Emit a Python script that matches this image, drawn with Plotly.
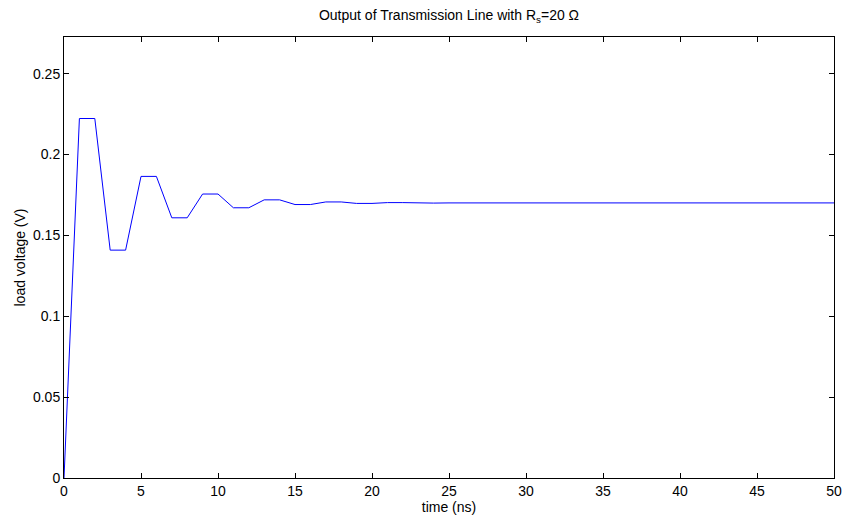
import plotly.graph_objects as go

time_ns = list(range(0, 51))
load_v = [0.0,
          0.2223, 0.2223, 0.1409, 0.1409, 0.1865, 0.1865, 0.1609, 0.1609,
          0.1756, 0.1756, 0.1671, 0.1671, 0.1720, 0.1720, 0.1691, 0.1691,
          0.1707, 0.1707, 0.1698, 0.1698, 0.1703, 0.1703, 0.1700, 0.1700] + [0.1701] * 26

x_ticks = list(range(0, 51, 5))
y_ticks = [0, 0.05, 0.1, 0.15, 0.2, 0.25]
y_tick_labels = ["0", "0.05", "0.1", "0.15", "0.2", "0.25"]

FONT = "Liberation Sans, Arial, sans-serif"

fig = go.Figure()
fig.add_trace(go.Scatter(x=time_ns, y=load_v, mode="lines",
                         line=dict(color="#0000ff", width=1)))

axis_common = dict(showgrid=False, zeroline=False, showline=True, linecolor="black",
                   linewidth=1, mirror="ticks", ticks="inside", ticklen=5,
                   tickcolor="black", tickwidth=1, automargin=False,
                   tickfont=dict(family=FONT, size=14, color="black"))

fig.update_layout(
    width=846, height=519,
    margin=dict(l=64, r=12, t=37, b=41),
    paper_bgcolor="white", plot_bgcolor="white",
    showlegend=False,
    title=dict(text="Output of Transmission Line with R<sub>s</sub>=20 Ω",
               x=(64 + 834) / 2 / 846, xanchor="center", y=1 - 15 / 519, yanchor="middle",
               font=dict(family=FONT, size=14, color="black")),
    xaxis=dict(range=[0, 50], tickvals=x_ticks,
               title=dict(text="time (ns)", standoff=0,
                          font=dict(family=FONT, size=14, color="black")),
               **axis_common),
    yaxis=dict(range=[0, 0.2727], tickvals=y_ticks, ticktext=y_tick_labels,
               title=dict(text="load voltage (V)", standoff=4,
                          font=dict(family=FONT, size=14, color="black")),
               **axis_common),
)

fig.write_html("out.html")
